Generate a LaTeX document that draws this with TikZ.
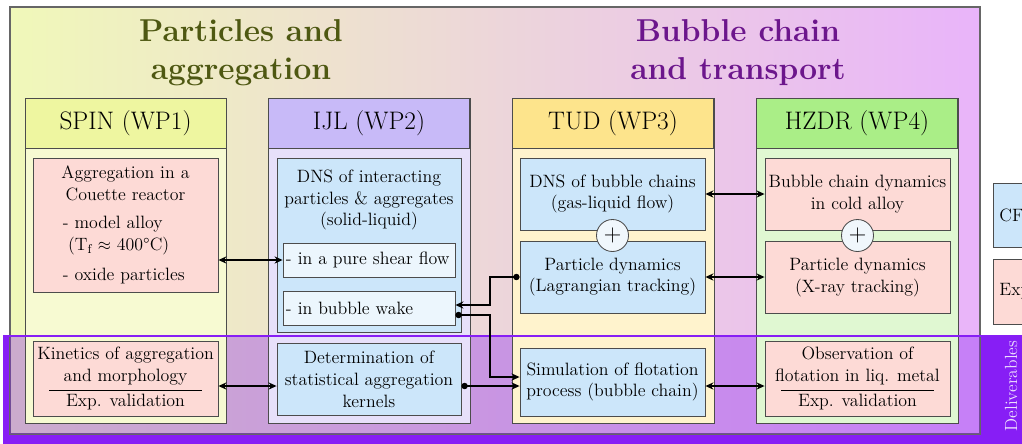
\documentclass[tikz,border=0pt]{standalone}
\usetikzlibrary{arrows.meta,calc}

\definecolor{pinkfill}{RGB}{253,218,214}
\definecolor{bluefill}{RGB}{204,230,250}
\definecolor{subfill}{RGB}{236,246,253}
\definecolor{plusfill}{RGB}{240,247,252}
\definecolor{spinhead}{RGB}{238,246,160}
\definecolor{spinbody}{RGB}{247,250,210}
\definecolor{ijlhead}{RGB}{200,186,248}
\definecolor{ijlbody}{RGB}{231,224,250}
\definecolor{tudhead}{RGB}{253,228,140}
\definecolor{tudbody}{RGB}{255,243,205}
\definecolor{hzdrhead}{RGB}{170,238,135}
\definecolor{hzdrbody}{RGB}{224,248,210}
\definecolor{bandviolet}{RGB}{135,30,245}
\definecolor{bgleft}{RGB}{240,248,185}
\definecolor{bgmid}{RGB}{240,218,222}
\definecolor{bgright}{RGB}{233,180,250}
\definecolor{titlegreen}{RGB}{78,88,18}
\definecolor{titlepurple}{RGB}{108,22,140}

\tikzset{
  box/.style={draw=black!70, line width=0.6pt, align=center, inner sep=1pt,
    font=\fontsize{12.7}{15.5}\selectfont},
  pinkbox/.style={box, fill=pinkfill},
  bluebox/.style={box, fill=bluefill},
  subbox/.style={box, fill=subfill, text width=4.15cm, align=left,
    minimum width=4.3cm, minimum height=0.85cm},
  head/.style={draw=black!70, line width=0.6pt, minimum width=5.025cm,
    minimum height=1.25cm, font=\fontsize{18}{20}\selectfont},
  column/.style={draw=black!70, line width=0.6pt},
  plus/.style={circle, draw=black!70, line width=0.6pt, fill=plusfill,
    minimum size=0.8cm, inner sep=0pt, font=\fontsize{16}{16}\selectfont},
  title/.style={align=center, font=\fontsize{22.5}{27}\bfseries\selectfont},
  link/.style={{Stealth[length=2mm,width=1.8mm]}-{Stealth[length=2mm,width=1.8mm]},
    line width=1pt},
  dotlink/.style={{Circle[length=4.5pt]}-{Stealth[length=2mm,width=1.8mm]},
    line width=1pt},
}

\begin{document}
\begin{tikzpicture}[x=0.025cm, y=-0.025cm]
  \useasboundingbox (0,0) rectangle (1022,443);
  % Deliverables band
  \fill[bandviolet] (3,336) rectangle (1040,450);
  % Background frame
  \shade[left color=bgleft, middle color=bgmid, right color=bgright]
    (10,7) rectangle (980,434);
  \draw[black!60, line width=0.8pt] (10,7) rectangle (980,434);
  \fill[bandviolet, opacity=0.35] (10,336) rectangle (980,434);

  % Titles
  \node[title, text=titlegreen] (ttlpart) at (241,53) {Particles and\\aggregation};
  \node[title, text=titlepurple] (ttlbub) at (738,53) {Bubble chain\\and transport};

  % Columns (work packages)
  \draw[column, fill=spinbody] (25,98) rectangle (226,423);
  \node[head, fill=spinhead] (spin) at (125.5,123) {SPIN (WP1)};
  \draw[column, fill=ijlbody] (268,98) rectangle (470,423);
  \node[head, fill=ijlhead] (ijl) at (369,123) {IJL (WP2)};
  \draw[column, fill=tudbody] (512,98) rectangle (714,423);
  \node[head, fill=tudhead] (tud) at (613,123) {TUD (WP3)};
  \draw[column, fill=hzdrbody] (756,98) rectangle (958,423);
  \node[head, fill=hzdrhead] (hzdr) at (857,123) {HZDR (WP4)};

  % Band top edge
  \draw[bandviolet, line width=1.5pt] (3,336) -- (1040,336);
  \node[rotate=90, text=white!85!bandviolet, font=\fontsize{12.5}{12.5}\selectfont]
    (deliv) at (1011,386) {Deliverables};

  % SPIN boxes
  \node[pinkbox, minimum width=4.625cm, minimum height=3.35cm, text width=4.45cm,
    align=left] (couette) at (125.5,225) {%
    {\centering Aggregation in a\\Couette reactor\par}
    \vspace{5pt}
    \hspace*{0.66cm}- model alloy\\
    \hspace*{0.79cm}(T$_\mathrm{f}\approx$ 400°C)\par
    \vspace{6pt}
    \hspace*{0.66cm}- oxide particles};
  \node[pinkbox, minimum width=4.625cm, minimum height=1.875cm] (kin)
    at (125.5,378.5) {Kinetics of aggregation\\and morphology\\[-9pt]%
    \rule{3.8cm}{0.6pt}\\[-4pt]Exp. validation};

  % IJL boxes
  \node[bluebox, minimum width=4.6cm, minimum height=4.35cm] (dnsp) at (369,245) {};
  \node[font=\fontsize{12.7}{15.5}\selectfont, align=center] (dnstxt) at (369,200)
    {DNS of interacting\\particles \& aggregates\\(solid-liquid)};
  \node[subbox] (shear) at (369,260) {- in a pure shear flow};
  \node[subbox] (wake) at (369,308) {- in bubble wake};
  \node[bluebox, minimum width=4.6cm, minimum height=1.8cm] (det) at (369,379)
    {Determination of\\statistical aggregation\\kernels};

  % TUD boxes
  \node[bluebox, minimum width=4.625cm, minimum height=1.8cm] (dnsb) at (612.5,194)
    {DNS of bubble chains\\(gas-liquid flow)};
  \node[bluebox, minimum width=4.625cm, minimum height=1.8cm] (tpart) at (612.5,277)
    {Particle dynamics\\(Lagrangian tracking)};
  \node[plus] (plustud) at (612.5,235.5) {$+$};
  \node[bluebox, minimum width=4.625cm, minimum height=1.7cm] (sim) at (612.5,382)
    {Simulation of flotation\\process (bubble chain)};

  % HZDR boxes
  \node[pinkbox, minimum width=4.625cm, minimum height=1.8cm] (bcd) at (857.5,194)
    {Bubble chain dynamics\\in cold alloy};
  \node[pinkbox, minimum width=4.625cm, minimum height=1.8cm] (hpart) at (857.5,277.5)
    {Particle dynamics\\(X-ray tracking)};
  \node[plus] (plushzdr) at (857.5,235.5) {$+$};
  \node[pinkbox, minimum width=4.625cm, minimum height=1.875cm] (obs) at (857.5,378.5)
    {Observation of\\flotation in liq. metal\\[-9pt]%
    \rule{3.8cm}{0.6pt}\\[-4pt]Exp. validation};

  % Legend (cut at the page edge)
  \node[bluebox, anchor=west, inner xsep=3pt, minimum width=2.5cm, minimum height=1.6cm,
    text width=2.2cm, align=left] (cfd) at (993,215) {CFD};
  \node[pinkbox, anchor=west, inner xsep=3pt, minimum width=2.5cm, minimum height=1.625cm,
    text width=2.2cm, align=left] (expl) at (993,291.5) {Exp.};

  % Connectors
  \coordinate (bend) at (490,0);
  \coordinate (wkin) at ([yshift=0.075cm]wake.east);
  \coordinate (wkout) at ([yshift=-0.175cm]wake.east);
  \coordinate (simin) at ([yshift=0.125cm]sim.west);
  \coordinate (simlow) at ([yshift=-0.1cm]sim.west);
  \draw[link] (couette.east |- shear.west) -- (shear.west);
  \draw[dotlink] (tpart.west) -- (bend |- tpart.west) |- (wkin);
  \draw[dotlink] (wkout) -| (bend |- simin) -- (simin);
  \draw[dotlink] (det.east |- simlow) -- (simlow);
  \draw[link] (kin.east |- simlow) -- (det.west |- simlow);
  \draw[link] (sim.east |- simlow) -- (obs.west |- simlow);
  \draw[link] (dnsb.east) -- (bcd.west);
  \draw[link] (tpart.east) -- (hpart.west |- tpart.east);
\end{tikzpicture}
\end{document}
